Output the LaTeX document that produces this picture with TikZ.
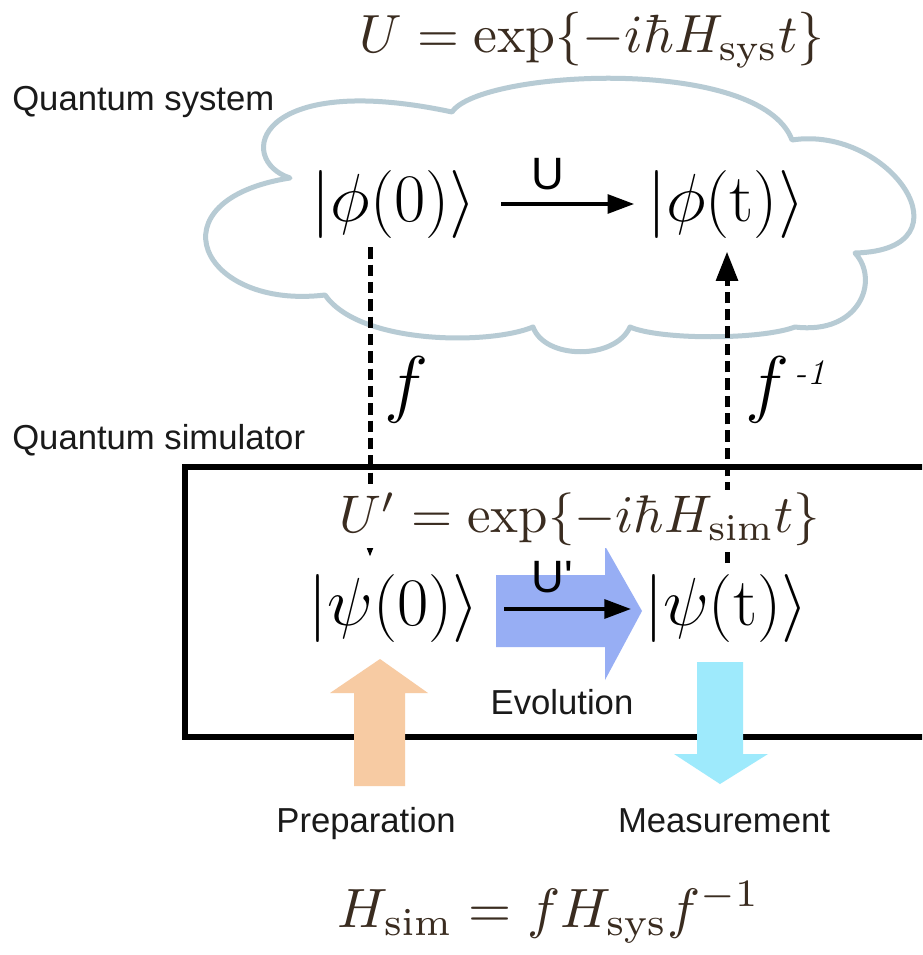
\documentclass[tikz,border=0pt]{standalone}
\usepackage[no-math]{fontspec}
\setsansfont{Liberation Sans}
\usetikzlibrary{arrows.meta}
\definecolor{cloudc}{HTML}{B7CBD4}
\definecolor{labelc}{HTML}{1A1A1A}
\definecolor{eqc}{HTML}{3A2C20}
\definecolor{evoc}{HTML}{97AEF4}
\definecolor{prepc}{HTML}{F7CBA3}
\definecolor{measc}{HTML}{9EEAFC}
\begin{document}
\begin{tikzpicture}[x=0.75pt,y=-0.75pt,
  sanslabel/.style={font=\fontsize{26}{30}\selectfont\sffamily, text=labelc, inner sep=0pt},
  bra/.style={font=\fontsize{24.88}{30}\selectfont, inner sep=0pt},
  eqn/.style={text=eqc, inner sep=2pt},
  dashline/.style={line width=3.75pt, dash pattern=on 8.5pt off 4.5pt},
  dashtip/.style={-{Triangle[length=22pt,width=16pt]}},
  thinarrow/.style={line width=3pt, -{Triangle[length=20pt,width=14pt]}},
  cloudline/.style={draw=cloudc, line width=3.75pt, fill=white, line join=round},
  boxline/.style={line width=4.5pt}]
\clip (0,0) rectangle (922,955);
\fill[white] (0,0) rectangle (922,955);
% cloud
\path[cloudline] (290,178)
  .. controls (235,160) and (255,70) .. (452,112)
  .. controls (480,70) and (760,55) .. (792,140)
  .. controls (890,125) and (975,250) .. (855,253)
  .. controls (880,280) and (860,335) .. (795,327)
  .. controls (760,340) and (660,340) .. (630,327)
  .. controls (615,360) and (545,360) .. (533,327)
  .. controls (490,345) and (360,345) .. (325,295)
  .. controls (200,310) and (150,200) .. (290,178) -- cycle;
% simulator box
\draw[boxline] (930,467) -- (185,467) -- (185,737) -- (930,737);
% labels
\node[sanslabel, anchor=base west] (qsys) at (12,111) {Quantum system};
\node[sanslabel, anchor=base west] (qsim) at (12,449) {Quantum simulator};
\node[eqn] (ueq) at (592,40) {\resizebox{348.75pt}{!}{$U=\exp\{-i\hbar H_{\mathrm{sys}}t\}$}};
% states
\node[bra] (phi0) at (394,204) {\scalebox{2.05}{$|\phi(0)\rangle$}};
\node[bra] (phit) at (726,204) {\scalebox{2.05}{$|\phi(\mathrm{t})\rangle$}};
\node[bra] (psi0) at (394,608) {\scalebox{2.05}{$|\psi(0)\rangle$}};
\node[bra] (psit) at (726,608) {\scalebox{2.05}{$|\psi(\mathrm{t})\rangle$}};
% evolution big arrow
\fill[evoc] (496,575) -- (605,575) -- (605,546) -- (642,611) -- (605,680) -- (605,647) -- (496,647) -- cycle;
% preparation / measurement arrows
\fill[prepc] (354,786) -- (354,693) -- (330,693) -- (380,659) -- (428,693) -- (405,693) -- (405,786) -- cycle;
\fill[measc] (697,662) -- (743,662) -- (743,754) -- (768,754) -- (720,784) -- (674,754) -- (697,754) -- cycle;
% arrows between states
\draw[thinarrow] ([xshift=18.75pt]phi0.east) -- ([xshift=-9.75pt]phit.west);
\node[font=\fontsize{34}{36}\selectfont\sffamily, inner sep=0pt] (ulab) at (548,174) {U};
\draw[thinarrow] ([xshift=18.75pt,yshift=-0.75pt]psi0.east) -- ([xshift=-9.75pt,yshift=-0.75pt]psit.west);
\node[font=\fontsize{34}{36}\selectfont\sffamily, inner sep=0pt] (uplab) at (552,577) {U\textquotesingle};
% mapping arrows
\draw[dashline, dashtip, shorten <=6.75pt, shorten >=12.75pt] ([xshift=-18pt]phi0.south) -- ([xshift=-18pt]psi0.north);
\draw[dashline, dashtip, shorten <=8pt, shorten >=10pt] ([xshift=0.75pt]psit.north) -- ([xshift=0.75pt]phit.south);
\node[eqn, fill=white] (upeq) at (580,519) {\resizebox{360pt}{!}{$U'=\exp\{-i\hbar H_{\mathrm{sim}}t\}$}};
\node[inner sep=0pt, anchor=base, font=\fontsize{24.88}{30}\selectfont] (flab) at (406,408) {\scalebox{2.25}{$f$}};
\node[inner sep=0pt, anchor=base west, font=\fontsize{24.88}{30}\selectfont] (finv) at (745,408) {\scalebox{2.25}{$f$}\kern4pt\raisebox{18pt}{\fontsize{27}{29}\selectfont\itshape -1}};
% step labels
\node[sanslabel, anchor=base] (evo) at (562,714) {Evolution};
\node[sanslabel, anchor=base] (prep) at (366,832) {Preparation};
\node[sanslabel, anchor=base] (meas) at (724,832) {Measurement};
\node[eqn, anchor=base] (heq) at (549,927) {\resizebox{316.5pt}{!}{$H_{\mathrm{sim}}=fH_{\mathrm{sys}}f^{-1}$}};
\end{tikzpicture}
\end{document}
